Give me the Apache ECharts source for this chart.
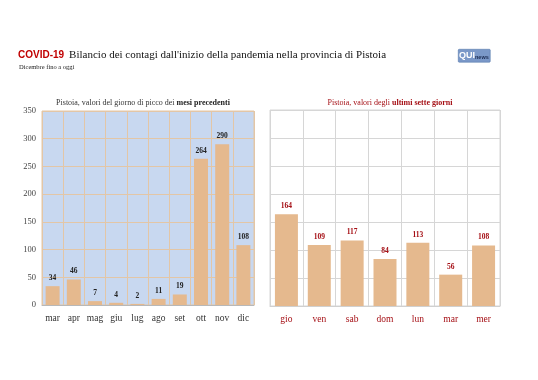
<!DOCTYPE html>
<html><head><meta charset="utf-8">
<script src="https://cdn.jsdelivr.net/npm/echarts@6/dist/echarts.min.js"></script>
<style>html,body{margin:0;padding:0;background:#fff}#c{width:538px;height:380px}</style>
</head><body><div id="c"></div>
<script>
const monthCats = ['mar','apr','mag','giu','lug','ago','set','ott','nov','dic'];
const monthVals = [34,46,7,4,2,11,19,264,290,108];
const dayCats = ['gio','ven','sab','dom','lun','mar','mer'];
const dayVals = [164,109,117,84,113,56,108];
const yTicks = [0,50,100,150,200,250,300,350];

const serif = '"Liberation Serif","DejaVu Serif",serif';
const red = '#a50f15';
const barColor = '#e5b98e';
const chart = echarts.init(document.getElementById('c'), null, {renderer:'canvas'});
chart.setOption({
  animation:false,
  backgroundColor:'#fff',
  title:[
    {left:13, top:41, text:'{a|COVID-19} {b|Bilancio dei contagi dall\'inizio della pandemia nella provincia di Pistoia}',
      textStyle:{fontWeight:'normal',rich:{a:{fontFamily:'"Liberation Sans",sans-serif',fontWeight:'bold',fontSize:10,color:'#c00000'},
        b:{fontFamily:serif,fontSize:11,fontWeight:'normal',color:'#111'}}}},
    {left:14, top:59, text:'Dicembre fino a oggi', textStyle:{fontFamily:serif,fontSize:6.5,fontWeight:'normal',color:'#222'}},
    {left:138, top:94, textAlign:'center', text:'Pistoia, valori del giorno di picco dei {b|mesi precedenti}',
      textStyle:{fontFamily:serif,fontSize:8,fontWeight:'normal',color:'#333',rich:{b:{fontFamily:serif,fontSize:8,fontWeight:'bold',color:'#222'}}}},
    {left:385, top:94, textAlign:'center', text:'Pistoia, valori degli {b|ultimi sette giorni}',
      textStyle:{fontFamily:serif,fontSize:8,fontWeight:'normal',color:red,rich:{b:{fontFamily:serif,fontSize:8,fontWeight:'bold',color:red}}}}
  ],
  graphic:[
    {type:'rect',left:458,top:49,shape:{width:32,height:13,r:1},style:{fill:'#7a98c8',stroke:'#4a6ea5',lineWidth:0.5}},
    {type:'text',left:459,top:51,style:{text:'QUI',fill:'#fff',font:'bold 9px "Liberation Sans",sans-serif'}},
    {type:'text',left:475,top:54,style:{text:'news',fill:'#1a2a50',font:'bold 5.5px "Liberation Sans",sans-serif'}}
  ],
  grid:[
    {left:42, top:111, width:212, height:194, show:true, backgroundColor:'#c8d8f0', borderColor:'#e3c6a6', borderWidth:1},
    {left:270, top:110, width:230, height:196, show:true, backgroundColor:'#fff', borderColor:'#d6d6d6', borderWidth:1}
  ],
  xAxis:[
    {type:'category', gridIndex:0, data:monthCats, axisTick:{show:false},
      axisLine:{lineStyle:{color:'#b8b8b8'}},
      axisLabel:{interval:0,fontFamily:serif,fontSize:9.5,color:'#333',margin:8},
      splitLine:{show:true,interval:0,lineStyle:{color:'#e3c6a6',width:1}}},
    {type:'category', gridIndex:1, data:dayCats, axisTick:{show:false},
      axisLine:{lineStyle:{color:'#d0d0d0'}},
      axisLabel:{interval:0,fontFamily:serif,fontSize:9.5,color:red,margin:8},
      splitLine:{show:true,interval:0,lineStyle:{color:'#d6d6d6',width:1}}}
  ],
  yAxis:[
    {type:'value', gridIndex:0, min:yTicks[0], max:yTicks[yTicks.length-1], interval:50,
      axisLine:{show:false}, axisTick:{show:false},
      axisLabel:{fontFamily:serif,fontSize:8.5,color:'#444',margin:6},
      splitLine:{lineStyle:{color:'#e3c6a6',width:1}}},
    {type:'value', gridIndex:1, min:yTicks[0], max:yTicks[yTicks.length-1], interval:50,
      axisLine:{show:false}, axisTick:{show:false}, axisLabel:{show:false},
      splitLine:{lineStyle:{color:'#d6d6d6',width:1}}}
  ],
  series:[
    {type:'bar', xAxisIndex:0, yAxisIndex:0, data:monthVals, barWidth:'66%',
      itemStyle:{color:barColor},
      label:{show:true,position:'top',distance:4,fontFamily:serif,fontSize:7.5,fontWeight:'bold',color:'#222'}},
    {type:'bar', xAxisIndex:1, yAxisIndex:1, data:dayVals, barWidth:'70%',
      itemStyle:{color:barColor},
      label:{show:true,position:'top',distance:4,fontFamily:serif,fontSize:7.5,fontWeight:'bold',color:red}}
  ]
});
</script></body></html>
